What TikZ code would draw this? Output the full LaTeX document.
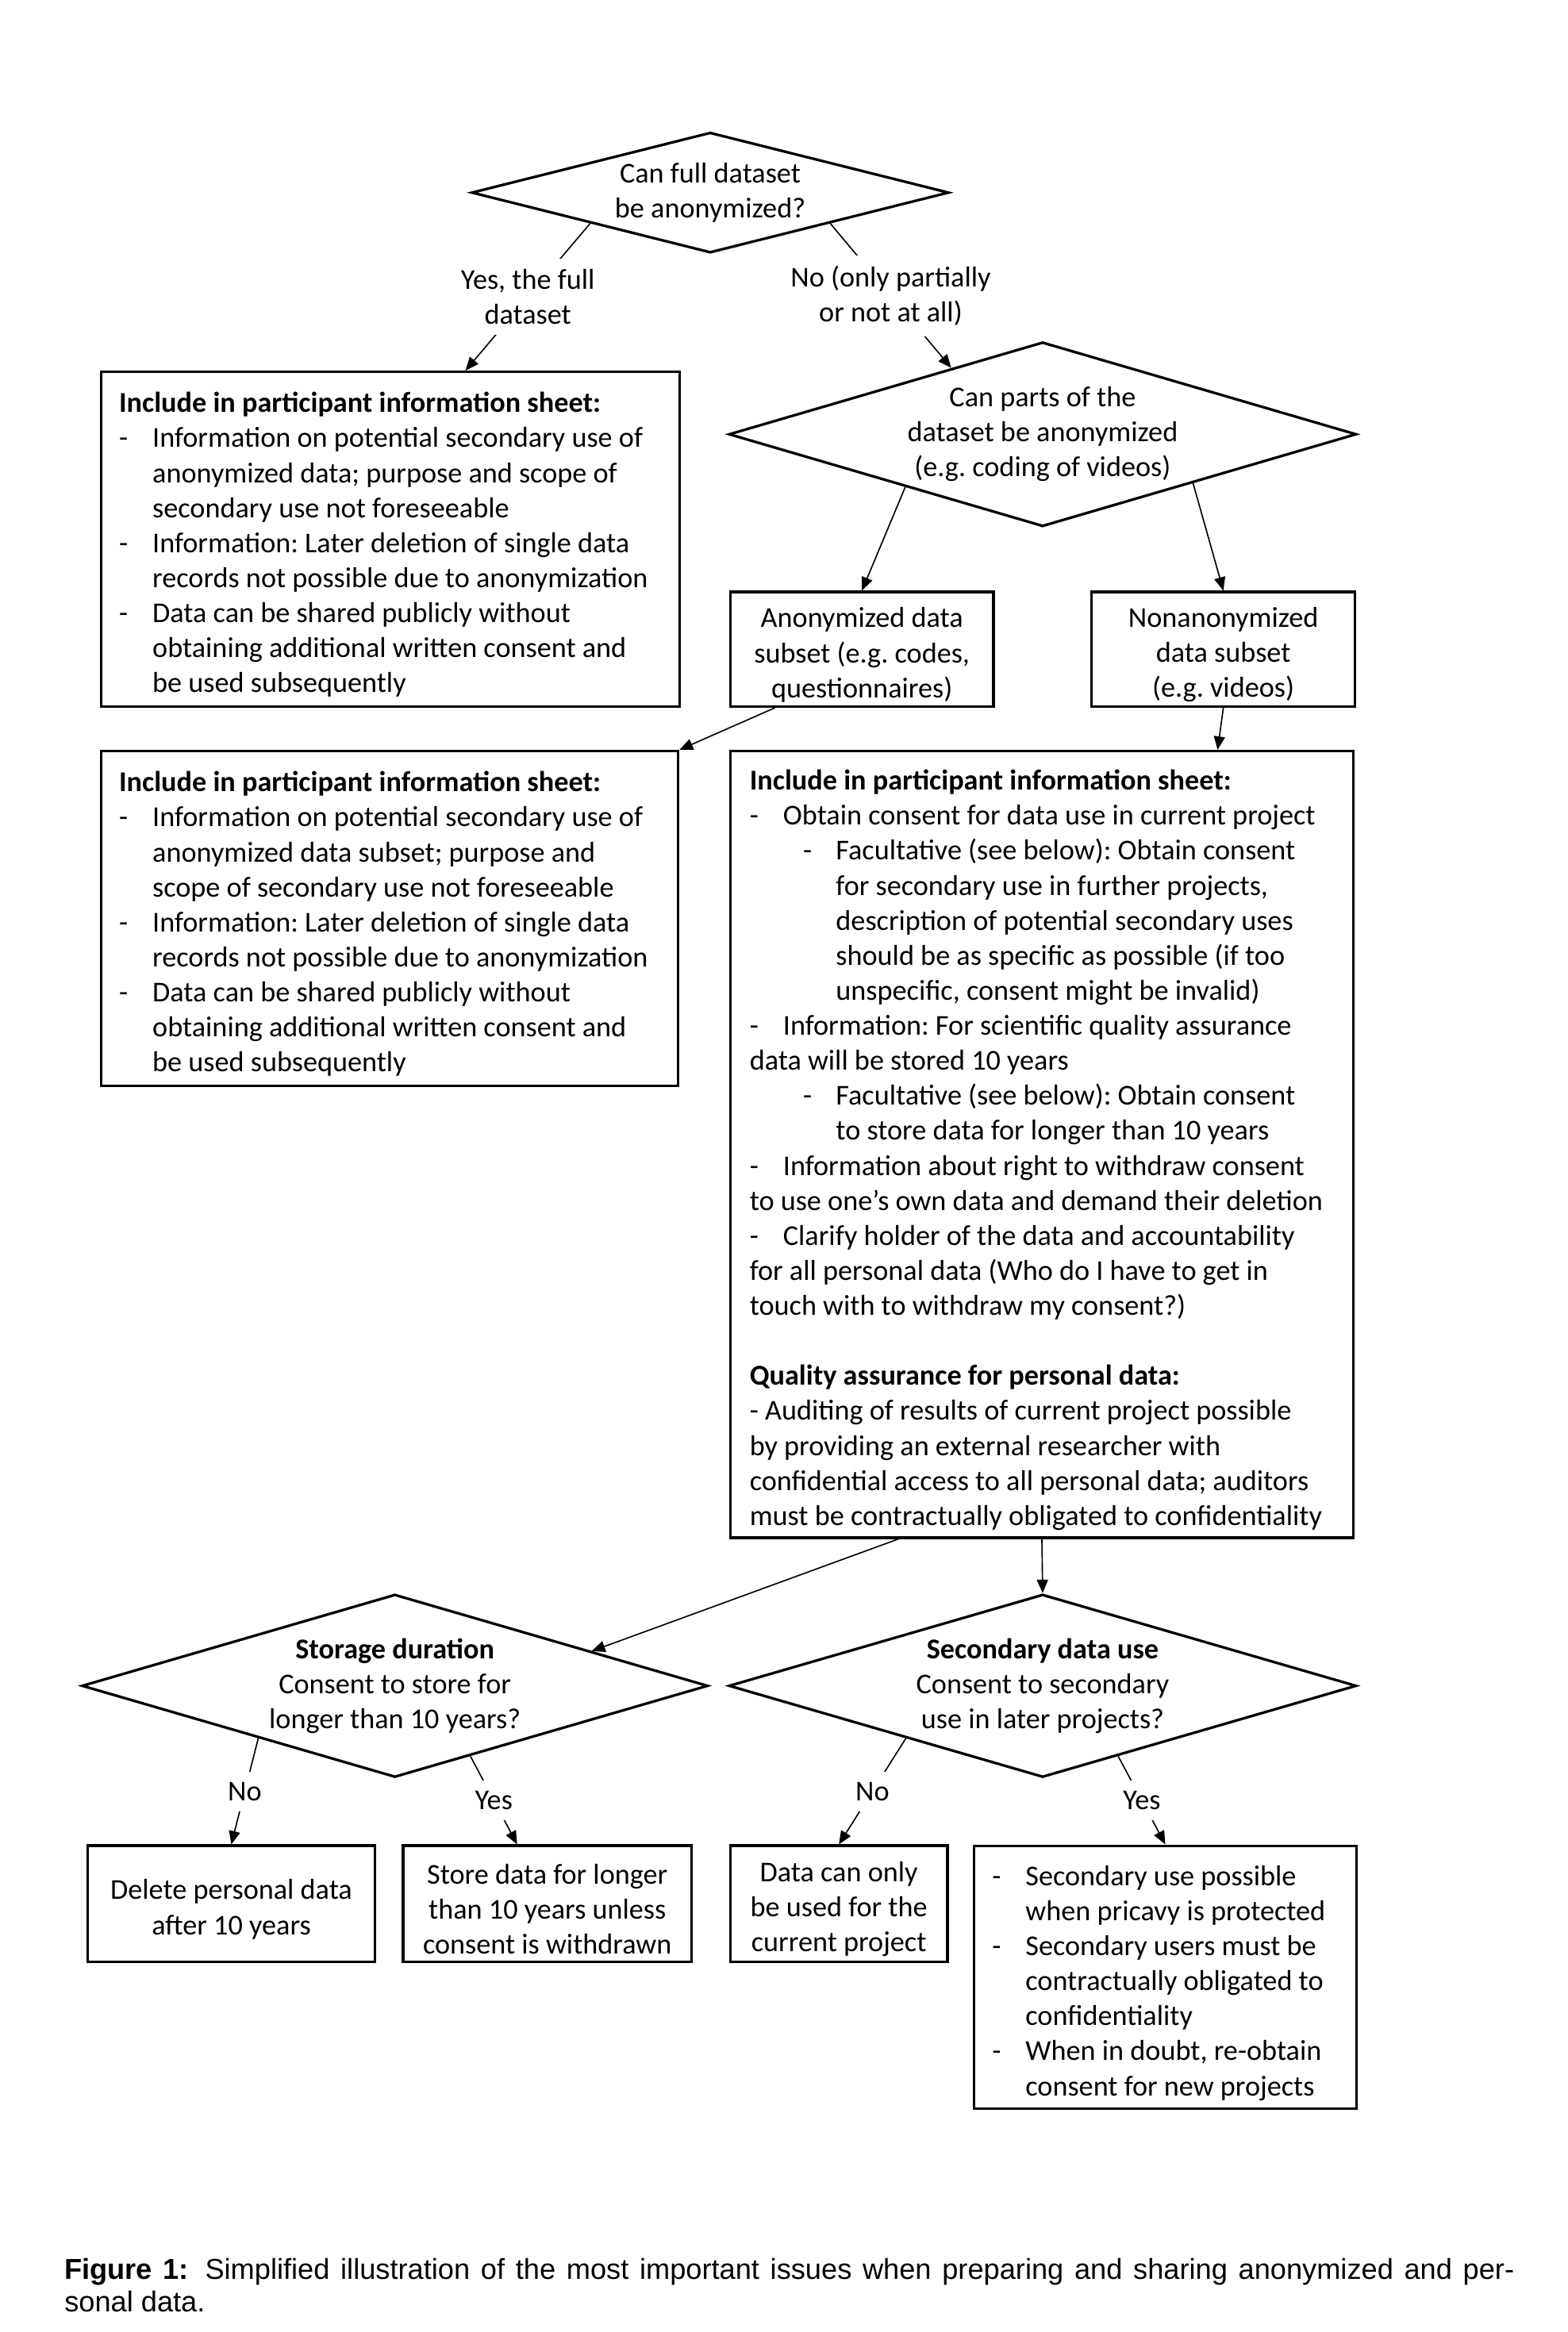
\documentclass[tikz,border=0pt]{standalone}
\usepackage{fontspec}
\setmainfont{Carlito}
\newfontfamily\capfont{Liberation Sans}
\usetikzlibrary{arrows,arrows.meta,shapes.geometric}

\newcommand{\boxfont}{\fontsize{11}{13.4}\selectfont\frenchspacing}
\newcommand{\hitem}{\makebox[0.45cm][l]{-}}
\newcommand{\hind}{\hspace*{0.45cm}}
\newcommand{\sitem}{\hspace*{0.72cm}\makebox[0.44cm][l]{-}}
\newcommand{\sind}{\hspace*{1.16cm}}
\newcommand{\topstrut}{\rule{0pt}{12pt}}

\begin{document}
\begin{tikzpicture}[x=0.02cm,y=-0.02cm,
    >={Triangle[length=1.8mm,width=1.5mm]},
    infobox/.style={draw,line width=1pt,align=flush left,inner xsep=0.24cm,inner ysep=0pt,font=\boxfont,
      execute at begin node={\spaceskip=0pt\xspaceskip=0pt\topstrut}},
    smallbox/.style={draw,line width=1pt,align=center,inner sep=0pt,font=\boxfont},
    decision/.style={diamond,draw,line width=1pt,align=center,inner sep=0pt,font=\boxfont},
    lbl/.style={fill=white,align=center,inner sep=4pt,font=\boxfont},
    conn/.style={->,line width=0.5pt}]
  \fill[white] (0,0) rectangle (1054,1568);
  \useasboundingbox (0,0) rectangle (1054,1568);

  \node[decision,shape aspect=3.96,minimum width=6.42cm,minimum height=1.62cm] (full) at (477.5,129.5)
    {Can full dataset\\be anonymized?};
  \node[decision,shape aspect=3.4,minimum width=8.44cm,minimum height=2.48cm] (parts) at (701,292)
    {Can parts of the\\dataset be anonymized\\(e.g. coding of videos)};

  \node[infobox,text width=7.30cm,minimum height=4.5cm] (fullsheet) at (262.5,362.5)
    {\textbf{Include in participant information sheet:}\\
     \hitem Information on potential secondary use of\\
     \hind anonymized data; purpose and scope of\\
     \hind secondary use not foreseeable\\
     \hitem Information: Later deletion of single data\\
     \hind records not possible due to anonymization\\
     \hitem Data can be shared publicly without\\
     \hind obtaining additional written consent and\\
     \hind be used subsequently};

  \node[smallbox,minimum width=3.54cm,minimum height=1.54cm] (anonsub) at (579.5,436.5)
    {\topstrut Anonymized data\\subset (e.g. codes,\\questionnaires)};
  \node[smallbox,minimum width=3.54cm,minimum height=1.54cm] (persub) at (822.5,436.5)
    {\topstrut Nonanonymized\\data subset\\(e.g. videos)};

  \node[infobox,text width=7.28cm,minimum height=4.5cm] (subsheet) at (262,617.5)
    {\textbf{Include in participant information sheet:}\\
     \hitem Information on potential secondary use of\\
     \hind anonymized data subset; purpose and\\
     \hind scope of secondary use not foreseeable\\
     \hitem Information: Later deletion of single data\\
     \hind records not possible due to anonymization\\
     \hitem Data can be shared publicly without\\
     \hind obtaining additional written consent and\\
     \hind be used subsequently};

  \node[infobox,text width=7.86cm,inner xsep=0.26cm,minimum height=10.58cm] (persheet) at (700.5,769.5)
    {\textbf{Include in participant information sheet:}\\
     \hitem Obtain consent for data use in current project\\
     \sitem Facultative (see below): Obtain consent\\
     \sind for secondary use in further projects,\\
     \sind description of potential secondary uses\\
     \sind should be as specific as possible (if too\\
     \sind unspecific, consent might be invalid)\\
     \hitem Information: For scientific quality assurance\\
     data will be stored 10 years\\
     \sitem Facultative (see below): Obtain consent\\
     \sind to store data for longer than 10 years\\
     \hitem Information about right to withdraw consent\\
     to use one’s own data and demand their deletion\\
     \hitem Clarify holder of the data and accountability\\
     for all personal data (Who do I have to get in\\
     touch with to withdraw my consent?)\\[13.4pt]
     \textbf{Quality assurance for personal data:}\\
     - Auditing of results of current project possible\\
     by providing an external researcher with\\
     confidential access to all personal data; auditors\\
     must be contractually obligated to confidentiality};

  \node[decision,shape aspect=3.42,minimum width=8.42cm,minimum height=2.46cm] (storage) at (265.5,1133.5)
    {\textbf{Storage duration}\\Consent to store for\\longer than 10 years?};
  \node[decision,shape aspect=3.43,minimum width=8.44cm,minimum height=2.46cm] (secuse) at (701,1133.5)
    {\textbf{Secondary data use}\\Consent to secondary\\use in later projects?};

  \node[smallbox,minimum width=3.86cm,minimum height=1.56cm] (delete) at (155.5,1280)
    {\topstrut Delete personal data\\after 10 years};
  \node[smallbox,minimum width=3.88cm,minimum height=1.56cm] (keep) at (368,1280)
    {\topstrut Store data for longer\\than 10 years unless\\consent is withdrawn};
  \node[smallbox,minimum width=2.92cm,minimum height=1.56cm] (onlycur) at (564,1280)
    {\topstrut Data can only\\be used for the\\current project};
  \node[infobox,text width=4.66cm,minimum height=3.54cm] (secok) at (783.5,1329.5)
    {\hitem Secondary use possible\\
     \hind when pricavy is protected\\
     \hitem Secondary users must be\\
     \hind contractually obligated to\\
     \hind confidentiality\\
     \hitem When in doubt, re-obtain\\
     \hind consent for new projects};

  \draw[conn] (full.south west) -- node[lbl] (yesfull) {Yes, the full\\dataset} (fullsheet.66);
  \draw[conn] (full.south east) -- node[lbl] (nopart) {No (only partially\\or not at all)} (parts.144);
  \draw[conn] (parts.201) -- (anonsub.north);
  \draw[conn] (parts.342) -- (persub.north);
  \draw[conn] (anonsub.214) -- (subsheet.north east);
  \draw[conn] (persub.south) -- (persheet.66);
  \draw[conn] (persheet.250) -- (storage.10);
  \draw[conn] (persheet.south) -- (secuse.north);
  \draw[conn] (storage.201) -- node[lbl] (nostore) {No} (delete.north);
  \draw[conn] (storage.317) -- node[lbl] (yesstore) {Yes} (keep.117);
  \draw[conn] (secuse.201) -- node[lbl] (nosec) {No} (onlycur.north);
  \draw[conn] (secuse.317) -- node[lbl] (yessec) {Yes} (secok.north);

  \node[anchor=north west,text width=19.5cm,align=justify,inner sep=0pt,font=\capfont\fontsize{11}{12.5}\selectfont] (caption) at (43,1518)
    {\textbf{Figure 1:} Simplified illustration of the most important issues when preparing and sharing anonymized and per-\linebreak sonal data.};
\end{tikzpicture}
\end{document}
